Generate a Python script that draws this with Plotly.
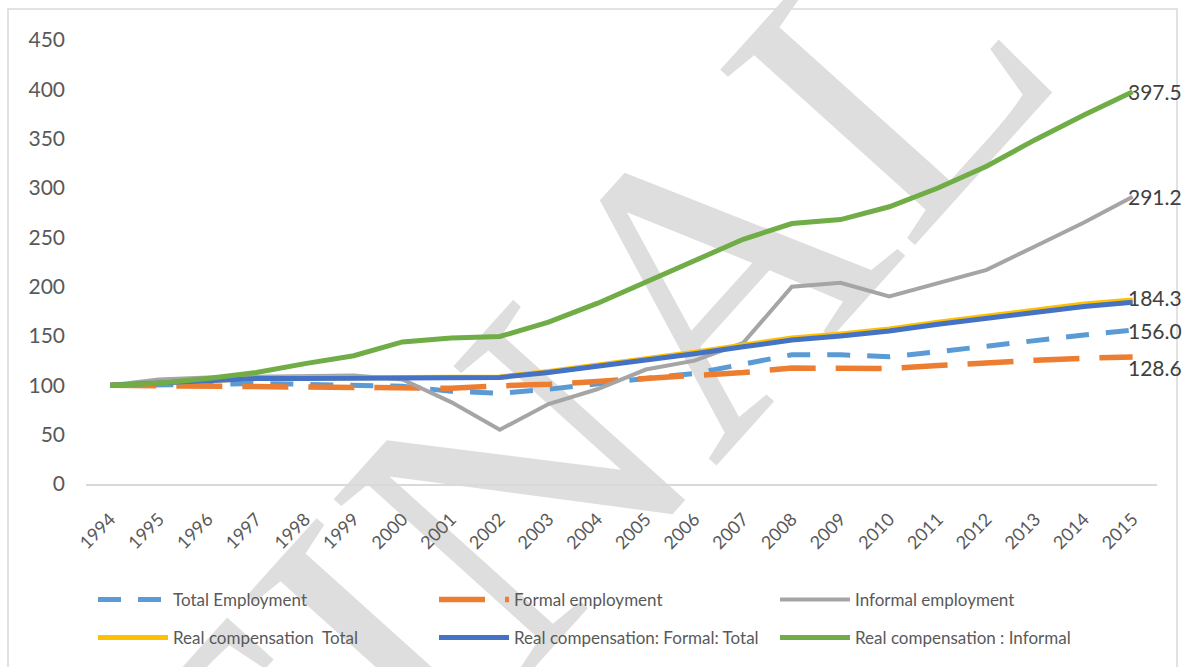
import plotly.graph_objects as go

# Index values (1994 = 100)
years = ["1994", "1995", "1996", "1997", "1998", "1999", "2000", "2001", "2002", "2003", "2004",
         "2005", "2006", "2007", "2008", "2009", "2010", "2011", "2012", "2013", "2014", "2015"]

total_employment = [100, 100, 101, 102, 101, 100, 99, 94, 92, 96, 102,
                    107, 112, 121, 131, 131, 129, 134, 140, 146, 151, 156.0]
formal_employment = [100, 99.5, 99, 99, 98.5, 98, 97.5, 97, 99.5, 101, 104,
                     107, 110, 113, 117.5, 117, 117, 120, 123, 125.5, 127.5, 128.6]
informal_employment = [100, 106, 108, 109, 110, 110, 106, 83, 55, 81, 96,
                       116, 125, 143, 200, 204, 190, 203, 217, 241, 265, 291.2]
real_comp_total = [100, 102, 105, 107, 107.5, 107.5, 108.5, 108.5, 108.5, 114, 120,
                   127, 133.5, 141, 148, 152, 157, 164, 170, 176.5, 182.5, 186.5]
real_comp_formal = [100, 102, 105, 107, 107, 107, 108, 108, 108, 113, 119,
                    126, 132, 139, 146, 150, 155, 162, 168, 174, 180, 184.3]
real_comp_informal = [100, 102, 107, 113, 122, 130, 144, 148, 149.5, 164, 183,
                      205, 227, 248, 264, 268, 281, 300, 322, 349, 374, 397.5]

W, H = 1185, 667
ML, MR, MT, MB = 86, 28, 40, 182
PW, PH = W - ML - MR, H - MT - MB


def px_x(px):
    return (px - ML) / PW


def px_y(py):
    return (H - MB - py) / PH


series = [
    ("Total Employment", total_employment, "#5B9BD5", 5, "23px,17px", "legend"),
    ("Formal employment", formal_employment, "#ED7D31", 5.5, "46px,20px", "legend"),
    ("Informal employment", informal_employment, "#A5A5A5", 4, "solid", "legend"),
    ("Real compensation  Total", real_comp_total, "#FFC000", 5, "solid", "legend2"),
    ("Real compensation: Formal: Total", real_comp_formal, "#4472C4", 5, "solid", "legend2"),
    ("Real compensation : Informal", real_comp_informal, "#70AD47", 5, "solid", "legend2"),
]

fig = go.Figure()
for name, vals, color, width, dash, leg in series:
    fig.add_trace(go.Scatter(
        x=years, y=vals, name=name, mode="lines",
        line=dict(color=color, width=width, dash=dash),
        legend=leg, hoverinfo="skip",
    ))

# End-of-series value labels: (values, vertical shift in px)
last = len(years) - 1
end_labels = [
    (real_comp_informal, 0),
    (informal_employment, 0),
    (real_comp_formal, 5),
    (total_employment, 0),
    (formal_employment, -10),
]
for vals, shift in end_labels:
    fig.add_annotation(
        x=last, y=vals[-1], xref="x", yref="y",
        text=f"{vals[-1]:.1f}", showarrow=False,
        xanchor="left", yanchor="middle", xshift=-7, yshift=shift,
        font=dict(family="Lato", size=21, color="#404040"),
    )

# Chart frame
fig.add_shape(type="rect", xref="paper", yref="paper",
              x0=px_x(8), x1=px_x(1177), y0=px_y(675), y1=px_y(9),
              line=dict(color="#D9D9D9", width=1.5), fillcolor="rgba(0,0,0,0)",
              layer="below")

# Watermark
cx, cy = 544, 391
fig.add_shape(type="rect", xref="paper", yref="paper",
              x0=px_x(cx - 5), x1=px_x(cx + 5), y0=px_y(cy + 5), y1=px_y(cy - 5),
              line=dict(width=0), fillcolor="rgba(0,0,0,0)", layer="below",
              label=dict(text="FINAL", textangle=-48, textposition="middle center",
                         font=dict(family="Liberation Serif", size=400, color="#DEDEDE")))

legend_common = dict(
    orientation="h", xanchor="left", yanchor="middle",
    entrywidth=256, entrywidthmode="pixels", itemwidth=70,
    font=dict(family="Lato", size=17, color="#595959"),
    bgcolor="rgba(0,0,0,0)", itemclick=False, itemdoubleclick=False,
)

fig.update_layout(
    width=W, height=H,
    margin=dict(l=ML, r=MR, t=MT, b=MB),
    paper_bgcolor="white", plot_bgcolor="rgba(0,0,0,0)",
    font=dict(family="Lato", color="#595959"),
    showlegend=True,
    legend=dict(x=px_x(93), y=px_y(600), **legend_common),
    legend2=dict(x=px_x(93), y=px_y(638), **legend_common),
    xaxis=dict(
        type="category", showgrid=False, zeroline=False,
        showline=True, linecolor="#D9D9D9", linewidth=1.5,
        tickangle=-45, tickfont=dict(family="Lato", size=18, color="#595959"),
        ticks="", range=[-0.5, len(years) - 0.5], ticklabelstandoff=16,
    ),
    yaxis=dict(
        range=[0, 450], dtick=50, showgrid=False, zeroline=False, showline=False,
        ticks="", tickfont=dict(family="Lato", size=21, color="#595959"),
        ticklabelstandoff=20,
    ),
)

fig.write_html("out.html")
